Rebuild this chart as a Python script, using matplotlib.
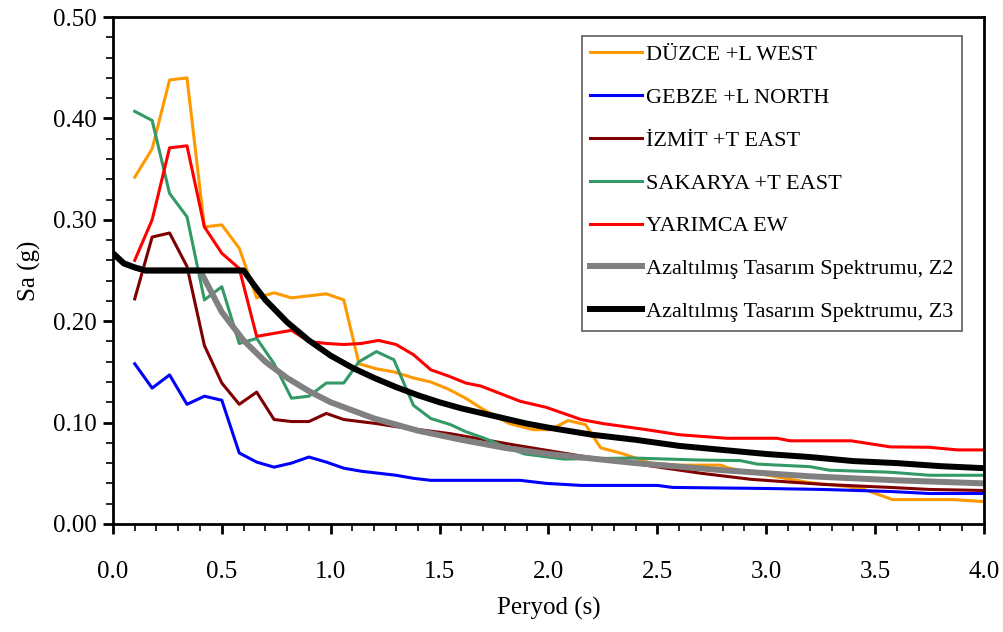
import matplotlib
matplotlib.use("Agg")
import matplotlib.pyplot as plt
from matplotlib.ticker import MultipleLocator, FormatStrFormatter

plt.rcParams['font.family'] = ['Liberation Serif', 'DejaVu Serif']

# DÜZCE +L WEST
duzce_t = [0.10, 0.18, 0.26, 0.34, 0.42, 0.50, 0.58, 0.66, 0.74, 0.82, 0.90, 0.98, 1.06, 1.13,
           1.21, 1.29, 1.38, 1.46, 1.54, 1.62, 1.70, 1.82, 1.93, 2.01, 2.09, 2.17, 2.24, 2.33,
           2.47, 2.60, 2.79, 2.83, 3.19, 3.37, 3.45, 3.58, 3.86, 4.00]
duzce_sa = [0.342, 0.370, 0.438, 0.440, 0.293, 0.295, 0.272, 0.223, 0.228, 0.223, 0.225, 0.227,
            0.221, 0.158, 0.153, 0.150, 0.144, 0.140, 0.133, 0.124, 0.113, 0.099, 0.093, 0.093,
            0.102, 0.098, 0.075, 0.070, 0.060, 0.058, 0.058, 0.055, 0.041, 0.037, 0.034, 0.024,
            0.024, 0.022]

# GEBZE +L NORTH
gebze_t = [0.10, 0.18, 0.26, 0.34, 0.42, 0.50, 0.58, 0.66, 0.74, 0.82, 0.90, 0.98, 1.06, 1.14,
           1.22, 1.30, 1.38, 1.46, 1.55, 1.70, 1.87, 1.99, 2.15, 2.50, 2.57, 2.99, 3.26, 3.57,
           3.75, 4.00]
gebze_sa = [0.158, 0.134, 0.147, 0.118, 0.126, 0.122, 0.070, 0.061, 0.056, 0.060, 0.066, 0.061,
            0.055, 0.052, 0.050, 0.048, 0.045, 0.043, 0.043, 0.043, 0.043, 0.040, 0.038, 0.038,
            0.036, 0.035, 0.034, 0.032, 0.030, 0.030]

# İZMİT +T EAST
izmit_t = [0.10, 0.18, 0.26, 0.34, 0.42, 0.50, 0.58, 0.66, 0.74, 0.82, 0.90, 0.98, 1.06, 1.21,
           1.30, 1.55, 1.84, 2.15, 2.38, 2.70, 2.93, 3.26, 3.57, 3.75, 4.00]
izmit_sa = [0.222, 0.283, 0.287, 0.254, 0.176, 0.139, 0.118, 0.130, 0.103, 0.101, 0.101, 0.109,
            0.103, 0.099, 0.096, 0.089, 0.078, 0.067, 0.060, 0.050, 0.044, 0.039, 0.036, 0.034,
            0.033]

# SAKARYA +T EAST
sakarya_t = [0.10, 0.18, 0.26, 0.34, 0.42, 0.50, 0.58, 0.66, 0.74, 0.82, 0.90, 0.98, 1.06, 1.13,
             1.21, 1.29, 1.38, 1.46, 1.55, 1.62, 1.70, 1.78, 1.89, 2.07, 2.39, 2.70, 2.88, 2.96,
             3.20, 3.29, 3.57, 3.75, 4.00]
sakarya_sa = [0.407, 0.398, 0.326, 0.303, 0.221, 0.234, 0.178, 0.183, 0.158, 0.124, 0.126, 0.139,
              0.139, 0.160, 0.170, 0.162, 0.117, 0.104, 0.098, 0.091, 0.085, 0.078, 0.069, 0.064,
              0.065, 0.063, 0.0625, 0.059, 0.0565, 0.053, 0.051, 0.048, 0.048]

# YARIMCA EW
yarimca_t = [0.10, 0.18, 0.26, 0.34, 0.42, 0.50, 0.58, 0.66, 0.74, 0.82, 0.90, 0.98, 1.06, 1.14,
             1.22, 1.30, 1.38, 1.46, 1.54, 1.62, 1.69, 1.87, 1.99, 2.15, 2.25, 2.45, 2.60, 2.82,
             3.05, 3.11, 3.39, 3.57, 3.75, 3.88, 4.00]
yarimca_sa = [0.260, 0.300, 0.371, 0.373, 0.293, 0.267, 0.252, 0.185, 0.188, 0.191, 0.180, 0.178,
              0.177, 0.178, 0.181, 0.177, 0.167, 0.152, 0.146, 0.139, 0.136, 0.121, 0.115, 0.103,
              0.099, 0.093, 0.088, 0.0845, 0.0845, 0.082, 0.082, 0.076, 0.0756, 0.073, 0.073]

# reduced design spectra
z2_t = [0.00, 0.05, 0.10, 0.15, 0.40, 0.50, 0.60, 0.70, 0.80, 0.90, 1.00, 1.20, 1.40, 1.60,
        1.80, 2.00, 2.40, 2.80, 3.20, 3.60, 4.00]
z2_sa = [0.267, 0.257, 0.253, 0.250, 0.250, 0.209, 0.181, 0.160, 0.144, 0.131, 0.120, 0.104,
         0.092, 0.083, 0.075, 0.069, 0.060, 0.053, 0.047, 0.043, 0.040]
z3_t = [0.00, 0.05, 0.10, 0.15, 0.60, 0.65, 0.70, 0.80, 0.90, 1.00, 1.10, 1.20, 1.30, 1.40,
        1.50, 1.60, 1.70, 1.80, 1.90, 2.00, 2.20, 2.40, 2.60, 2.80, 3.00, 3.20, 3.40, 3.60,
        3.80, 4.00]
z3_sa = [0.267, 0.257, 0.253, 0.250, 0.250, 0.235, 0.221, 0.199, 0.181, 0.166, 0.154, 0.144,
         0.135, 0.127, 0.120, 0.114, 0.109, 0.104, 0.099, 0.095, 0.088, 0.083, 0.077, 0.073,
         0.069, 0.066, 0.062, 0.060, 0.057, 0.055]

fig = plt.figure(figsize=(10.04, 6.32), dpi=100)
ax = fig.add_axes([0.1125, 0.171, 0.8675, 0.802])

ax.plot(duzce_t, duzce_sa, color='#FF9900', lw=2.2, label='DÜZCE +L WEST')
ax.plot(gebze_t, gebze_sa, color='#0000FF', lw=2.2, label='GEBZE +L NORTH')
ax.plot(izmit_t, izmit_sa, color='#800000', lw=2.2, label='İZMİT +T EAST')
ax.plot(sakarya_t, sakarya_sa, color='#339966', lw=2.2, label='SAKARYA +T EAST')
ax.plot(yarimca_t, yarimca_sa, color='#FF0000', lw=2.2, label='YARIMCA EW')
ax.plot(z2_t, z2_sa, color='#808080', lw=4.3, label='Azaltılmış Tasarım Spektrumu, Z2')
ax.plot(z3_t, z3_sa, color='black', lw=4.3, label='Azaltılmış Tasarım Spektrumu, Z3')

ax.set_xlim(0, 4)
ax.set_ylim(0, 0.5)
ax.xaxis.set_major_locator(MultipleLocator(0.5))
ax.xaxis.set_minor_locator(MultipleLocator(0.1))
ax.yaxis.set_major_locator(MultipleLocator(0.1))
ax.yaxis.set_minor_locator(MultipleLocator(0.02))
ax.xaxis.set_major_formatter(FormatStrFormatter('%.1f'))
ax.yaxis.set_major_formatter(FormatStrFormatter('%.2f'))

for s in ax.spines.values():
    s.set_linewidth(2)
ax.tick_params(which='major', direction='out', length=7, width=2, labelsize=18)
ax.tick_params(which='minor', direction='out', length=5, width=1.2)
ax.tick_params(axis='x', which='major', pad=20)
ax.tick_params(axis='y', which='major', pad=5)

ax.set_xlabel('Peryod (s)', fontsize=18, labelpad=10)
ax.set_ylabel('Sa (g)', fontsize=18, labelpad=8)

leg = ax.legend(loc='upper left', bbox_to_anchor=(0.538, 0.963), fontsize=16,
                frameon=True, fancybox=False, handlelength=2.3, handletextpad=0.2,
                labelspacing=1.0, borderpad=0.4, borderaxespad=0)
leg.get_frame().set_edgecolor('#333333')
leg.get_frame().set_linewidth(1.2)

fig.savefig('out.png', dpi=100)
